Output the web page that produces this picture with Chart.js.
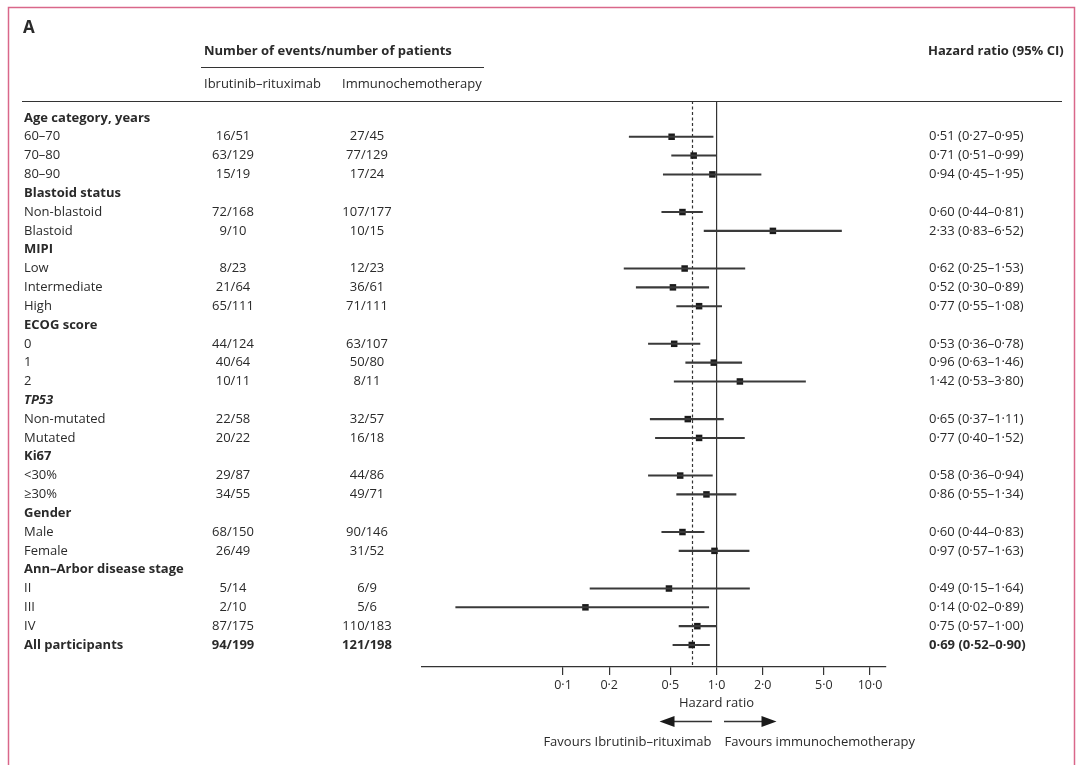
<!DOCTYPE html>
<html>
<head>
<meta charset="utf-8">
<title>Forest plot</title>
<script src="https://cdn.jsdelivr.net/npm/chart.js@4.4.1/dist/chart.umd.min.js"></script>
<style>
  html, body { margin: 0; padding: 0; background: #fff; }
  canvas { display: block; }
</style>
</head>
<body>
<canvas id="chart" width="1080" height="765"></canvas>
<script>
// Rows of the table, top to bottom
const rowLabels = [
  'Age category, years', '60–70', '70–80', '80–90',
  'Blastoid status', 'Non-blastoid', 'Blastoid',
  'MIPI', 'Low', 'Intermediate', 'High',
  'ECOG score', '0', '1', '2',
  'TP53', 'Non-mutated', 'Mutated',
  'Ki67', '<30%', '≥30%',
  'Gender', 'Male', 'Female',
  'Ann–Arbor disease stage', 'II', 'III', 'IV',
  'All participants'
];
// 'head' = group title, 'item' = subgroup, 'total' = overall row
const rowKinds = [
  'head', 'item', 'item', 'item',
  'head', 'item', 'item',
  'head', 'item', 'item', 'item',
  'head', 'item', 'item', 'item',
  'headItalic', 'item', 'item',
  'head', 'item', 'item',
  'head', 'item', 'item',
  'head', 'item', 'item', 'item',
  'total'
];
const ibrutinibEvents = [
  '', '16/51', '63/129', '15/19',
  '', '72/168', '9/10',
  '', '8/23', '21/64', '65/111',
  '', '44/124', '40/64', '10/11',
  '', '22/58', '20/22',
  '', '29/87', '34/55',
  '', '68/150', '26/49',
  '', '5/14', '2/10', '87/175',
  '94/199'
];
const immunoEvents = [
  '', '27/45', '77/129', '17/24',
  '', '107/177', '10/15',
  '', '12/23', '36/61', '71/111',
  '', '63/107', '50/80', '8/11',
  '', '32/57', '16/18',
  '', '44/86', '49/71',
  '', '90/146', '31/52',
  '', '6/9', '5/6', '110/183',
  '121/198'
];
const hazardRatio = [
  null, 0.51, 0.71, 0.94,
  null, 0.60, 2.33,
  null, 0.62, 0.52, 0.77,
  null, 0.53, 0.96, 1.42,
  null, 0.65, 0.77,
  null, 0.58, 0.86,
  null, 0.60, 0.97,
  null, 0.49, 0.14, 0.75,
  0.69
];
const ciLow = [
  null, 0.27, 0.51, 0.45,
  null, 0.44, 0.83,
  null, 0.25, 0.30, 0.55,
  null, 0.36, 0.63, 0.53,
  null, 0.37, 0.40,
  null, 0.36, 0.55,
  null, 0.44, 0.57,
  null, 0.15, 0.02, 0.57,
  0.52
];
const ciHigh = [
  null, 0.95, 0.99, 1.95,
  null, 0.81, 6.52,
  null, 1.53, 0.89, 1.08,
  null, 0.78, 1.46, 3.80,
  null, 1.11, 1.52,
  null, 0.94, 1.34,
  null, 0.83, 1.63,
  null, 1.64, 0.89, 1.00,
  0.90
];
const tickValues = [0.1, 0.2, 0.5, 1, 2, 5, 10];
const tickLabels = ['0·1', '0·2', '0·5', '1·0', '2·0', '5·0', '10·0'];

const FONT = '"Open Sans", "Noto Sans", sans-serif';
const TEXT = '#2a2a2a';
const LINE = '#333333';

// Lancet style decimals
function fmt(v) {
  return v.toFixed(2).replace('.', '·');
}

const ciData = [];
const hrData = [];
hazardRatio.forEach((v, i) => {
  if (v === null) return;
  ciData.push({ y: i, x: [ciLow[i], ciHigh[i]] });
  hrData.push({ x: v, y: i });
});

// Table text, header rules, reference line and arrows
const tablePlugin = {
  id: 'table',
  beforeDatasetsDraw(chart) {
    const { ctx, chartArea, scales } = chart;
    const xd = Math.round(scales.x.getPixelForValue(hazardRatio[hazardRatio.length - 1])) + 0.5;
    ctx.save();
    ctx.strokeStyle = LINE;
    ctx.lineWidth = 1.2;
    ctx.setLineDash([3, 2.5]);
    ctx.beginPath();
    ctx.moveTo(xd, chartArea.top);
    ctx.lineTo(xd, chartArea.bottom);
    ctx.stroke();
    ctx.restore();
  },
  afterDraw(chart) {
    const { ctx, scales } = chart;
    const x = scales.x;
    const y = scales.y;
    ctx.save();

    // pink frame
    ctx.strokeStyle = '#d9678a';
    ctx.lineWidth = 1.5;
    ctx.beginPath();
    ctx.moveTo(8.5, 765);
    ctx.lineTo(8.5, 7.5);
    ctx.lineTo(1074.5, 7.5);
    ctx.lineTo(1074.5, 765);
    ctx.stroke();

    ctx.fillStyle = TEXT;
    ctx.textBaseline = 'middle';

    // headings
    ctx.font = 'bold 17px ' + FONT;
    ctx.textAlign = 'left';
    ctx.fillText('A', 23, 28);
    ctx.font = 'bold 13px ' + FONT;
    ctx.fillText('Number of events/number of patients', 204, 51);
    ctx.fillText('Hazard ratio (95% CI)', 928, 51);
    ctx.font = '13px ' + FONT;
    ctx.fillText('Ibrutinib–rituximab', 204, 84);
    ctx.fillText('Immunochemotherapy', 342, 84);

    ctx.strokeStyle = LINE;
    ctx.lineWidth = 1.2;
    ctx.beginPath();
    ctx.moveTo(201, 67.5);
    ctx.lineTo(484, 67.5);
    ctx.moveTo(22, 101.5);
    ctx.lineTo(1062, 101.5);
    ctx.stroke();

    // rows
    rowLabels.forEach((label, i) => {
      const py = y.getPixelForValue(i);
      const kind = rowKinds[i];
      const bold = kind !== 'item';
      ctx.font = (kind === 'headItalic' ? 'italic ' : '') + (bold ? 'bold ' : '') + '13px ' + FONT;
      ctx.textAlign = 'left';
      ctx.fillText(label, 24, py);
      if (hazardRatio[i] === null) return;
      ctx.textAlign = 'center';
      ctx.fillText(ibrutinibEvents[i], 233, py);
      ctx.fillText(immunoEvents[i], 367, py);
      ctx.textAlign = 'left';
      ctx.fillText(fmt(hazardRatio[i]) + ' (' + fmt(ciLow[i]) + '–' + fmt(ciHigh[i]) + ')', 929, py);
    });

    // axis title and direction arrows
    const x1 = x.getPixelForValue(1);
    ctx.font = '13px ' + FONT;
    ctx.textAlign = 'center';
    ctx.fillText('Hazard ratio', x1, 703);

    const ay = 721.5;
    ctx.lineWidth = 1.5;
    ctx.beginPath();
    ctx.moveTo(x1 - 4.5, ay);
    ctx.lineTo(x1 - 44, ay);
    ctx.moveTo(x1 + 7.5, ay);
    ctx.lineTo(x1 + 47, ay);
    ctx.stroke();
    ctx.fillStyle = '#1a1a1a';
    ctx.beginPath();
    ctx.moveTo(x1 - 57, ay);
    ctx.lineTo(x1 - 42, ay - 5.5);
    ctx.lineTo(x1 - 42, ay + 5.5);
    ctx.closePath();
    ctx.moveTo(x1 + 60, ay);
    ctx.lineTo(x1 + 45, ay - 5.5);
    ctx.lineTo(x1 + 45, ay + 5.5);
    ctx.closePath();
    ctx.fill();

    ctx.fillStyle = TEXT;
    ctx.textAlign = 'right';
    ctx.fillText('Favours Ibrutinib–rituximab', x1 - 5, 742);
    ctx.textAlign = 'left';
    ctx.fillText('Favours immunochemotherapy', x1 + 8, 742);
    ctx.restore();
  }
};

new Chart(document.getElementById('chart'), {
  type: 'scatter',
  data: {
    datasets: [
      {
        type: 'bar',
        indexAxis: 'y',
        data: ciData,
        backgroundColor: '#3a3a3a',
        borderWidth: 0,
        barThickness: 1.4
      },
      {
        type: 'scatter',
        data: hrData,
        pointStyle: 'rect',
        pointRadius: 4.6,
        pointHoverRadius: 4.6,
        backgroundColor: '#1a1a1a',
        borderWidth: 0
      }
    ]
  },
  options: {
    responsive: false,
    animation: false,
    events: [],
    layout: { padding: { left: 422, right: 194, top: 101, bottom: 0 } },
    plugins: { legend: { display: false }, tooltip: { enabled: false } },
    scales: {
      x: {
        type: 'logarithmic',
        min: 0.01206,
        max: 12.71,
        bounds: 'data',
        offset: false,
        afterBuildTicks(scale) {
          scale.ticks = tickValues.map(v => ({ value: v }));
        },
        afterFit(scale) {
          scale.height = 98;
        },
        ticks: {
          autoSkip: false,
          maxRotation: 0,
          padding: 3,
          color: TEXT,
          font: { family: FONT, size: 12.5 },
          callback(value) {
            const k = tickValues.indexOf(value);
            return k >= 0 ? tickLabels[k] : '';
          }
        },
        grid: {
          offset: false,
          drawOnChartArea: true,
          color: ctx => (ctx.tick && ctx.tick.value === 1 ? LINE : 'rgba(0,0,0,0)'),
          lineWidth: 1.2,
          tickColor: LINE,
          tickLength: 8
        },
        border: { display: true, color: LINE, width: 1.2 }
      },
      y: {
        type: 'linear',
        display: false,
        reverse: true,
        offset: false,
        bounds: 'data',
        min: -0.9,
        max: 29.17
      }
    }
  },
  plugins: [tablePlugin]
});
</script>
</body>
</html>
